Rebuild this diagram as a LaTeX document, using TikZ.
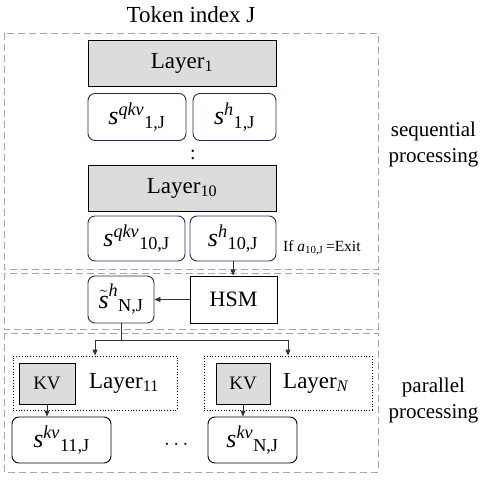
\documentclass[tikz,border=0pt]{standalone}
\usepackage{amsmath}
\usepackage{fontspec}
\setmainfont{Liberation Serif}
\usetikzlibrary{arrows.meta}
\definecolor{LayerColor}{RGB}{220,220,220}
\definecolor{StateColor}{RGB}{31,48,84}
\definecolor{FrameColor}{RGB}{166,166,166}

\begin{document}
\begin{tikzpicture}[x=1pt,y=-1pt,every text node part/.style={align=center},
  layerbox/.style={draw, fill=LayerColor, line width=0.9pt, inner sep=0pt},
  statebox/.style={draw=StateColor, rounded corners=7pt, line width=0.9pt, inner sep=0pt},
  plainbox/.style={draw, rounded corners=7pt, line width=0.9pt, inner sep=0pt},
  frame/.style={draw=FrameColor, dash pattern=on 7pt off 4pt, line width=0.9pt},
  link/.style={-{Triangle[length=6pt,width=5pt]}, line width=0.9pt, draw=black!80}]

  \useasboundingbox (0,0) rectangle (492,484);

  \node (title) at (191,15) {\fontsize{23}{26}\selectfont Token index J};

  % dashed frames
  \draw[frame] (4,33) rectangle (378,269);
  \draw[frame] (4,273) rectangle (378,329);
  \draw[frame] (4,333) rectangle (378,472);

  % sequential part
  \node[layerbox, minimum width=188pt, minimum height=46pt] (layer1) at (182,63) {\fontsize{23}{26}\selectfont Layer\textsubscript{1}};
  \node[statebox, minimum width=98pt, minimum height=47pt] (sq1) at (137,117) {\fontsize{26}{30}\selectfont ${\textit{s}^{\textit{qkv}}}_{\text{1,J}}$};
  \node[statebox, minimum width=83pt, minimum height=47pt] (sh1) at (234.5,117) {\fontsize{26}{30}\selectfont ${\textit{s}^{\textit{h}}}_{\text{1,J}}$};
  \node (vdots) at (193,155) {\fontsize{20}{24}\selectfont :};

  \node[layerbox, minimum width=188pt, minimum height=46pt] (layer10) at (182,188) {\fontsize{23}{26}\selectfont Layer\textsubscript{10}};
  \node[statebox, minimum width=97pt, minimum height=45pt] (sq10) at (136.5,238.5) {\fontsize{26}{30}\selectfont ${\textit{s}^{\textit{qkv}}}_{\text{10,J}}$};
  \node[statebox, minimum width=86pt, minimum height=45pt] (sh10) at (233,238.5) {\fontsize{26}{30}\selectfont ${\textit{s}^{\textit{h}}}_{\text{10,J}}$};
  \node[anchor=west, inner sep=0pt] (exitcond) at (283,248) {\fontsize{15.5}{18}\selectfont If $\textit{a}_{\text{10,J}}$\,=Exit};

  \node[anchor=west, align=left, font=\fontsize{21}{26}\selectfont] (seqlabel) at (385,144) {sequential\\processing};

  % hidden state mapping
  \node[draw, line width=0.9pt, minimum width=87pt, minimum height=47pt, inner sep=0pt] (hsm) at (233.5,299.5) {\fontsize{22}{26}\selectfont HSM};
  \node[statebox, minimum width=66pt, minimum height=47pt] (stilde) at (121,299.5) {\fontsize{26}{30}\selectfont $\tilde{\textit{s}}^{\textit{h}}{}_{\text{N,J}}$};

  \draw[link] (sh10.south) -- (sh10.south |- hsm.north);
  \draw[link] (hsm.west) -- (stilde.east);

  % parallel part
  \node[draw, dotted, line width=0.8pt, minimum width=164pt, minimum height=54pt, inner sep=0pt] (layer11) at (95,383) {};
  \node[layerbox, minimum width=56pt, minimum height=41pt] (kv11) at (47,383.5) {\fontsize{19}{22}\selectfont KV};
  \node (layer11txt) at (124,383) {\fontsize{23}{26}\selectfont Layer\textsubscript{11}};

  \node[draw, dotted, line width=0.8pt, minimum width=168pt, minimum height=54pt, inner sep=0pt] (layerN) at (288,383) {};
  \node[layerbox, minimum width=54pt, minimum height=41pt] (kvN) at (243,383.5) {\fontsize{19}{22}\selectfont KV};
  \node (layerNtxt) at (316,383) {\fontsize{23}{26}\selectfont Layer\textsubscript{\textit{N}}};

  \node[plainbox, minimum width=99pt, minimum height=46pt] (skv11) at (61.5,440) {\fontsize{26}{30}\selectfont ${\textit{s}^{\textit{kv}}}_{\text{11,J}}$};
  \node[plainbox, minimum width=89pt, minimum height=46pt] (skvN) at (252.5,440) {\fontsize{26}{30}\selectfont ${\textit{s}^{\textit{kv}}}_{\text{N,J}}$};
  \node (hdots) at (178,445) {\fontsize{22}{26}\selectfont $\cdots$};

  \node[anchor=west, align=left, font=\fontsize{21}{26}\selectfont] (parlabel) at (385,400) {parallel\\processing};

  \coordinate (split) at (121,340);
  \draw[line width=0.9pt, black!80] (stilde.south) -- (split);
  \draw[link] (split) -| (layer11.north);
  \draw[link] (split) -| (layerN.north);
  \draw[link] (kv11.south) -- (kv11.south |- skv11.north);
  \draw[link] (kvN.south) -- (kvN.south |- skvN.north);

\end{tikzpicture}
\end{document}
